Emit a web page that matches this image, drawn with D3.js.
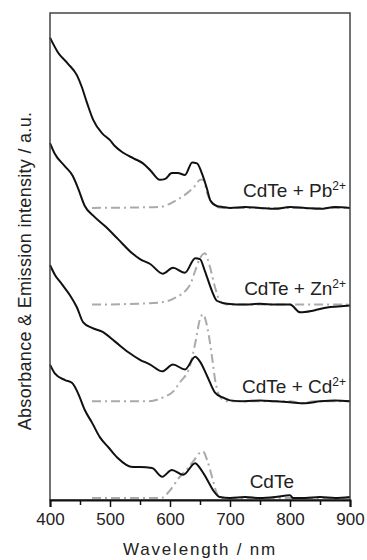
<!DOCTYPE html>
<html>
<head>
<meta charset="utf-8">
<script src="https://cdn.jsdelivr.net/npm/d3@7"></script>
<style>
body { margin: 0; background: #fff; }
text { font-family: "Liberation Sans", Arial, sans-serif; fill: #222; }
</style>
</head>
<body>
<div id="chart"></div>
<script>
// spectra: [wavelength nm, intensity a.u.]
var pbAbsorbance = [[400,1.76],[413,1.61],[430,1.49],[445,1.37],[453,1.25],[462,1.08],[472,0.91],[487,0.77],[500,0.70],[508,0.64],[522,0.57],[540,0.51],[555,0.46],[567,0.39],[583,0.29],[592,0.30],[603,0.36],[613,0.36],[625,0.34],[637,0.47],[645,0.46],[653,0.36],[662,0.19],[667,0.08],[678,0.02],[688,0.01],[700,0],[725,0.01],[750,0],[775,-0.01],[800,0.01],[825,0],[850,-0.01],[875,0.01],[900,0]];
var znAbsorbance = [[400,1.67],[408,1.56],[425,1.43],[438,1.33],[447,1.20],[458,1.02],[472,0.92],[492,0.81],[513,0.68],[537,0.53],[550,0.47],[567,0.42],[588,0.32],[605,0.38],[625,0.33],[642,0.48],[650,0.47],[658,0.35],[670,0.14],[678,0.04],[695,0.01],[725,0],[750,0.01],[775,0],[800,0],[817,-0.08],[840,-0.06],[862,-0.03],[880,-0.02],[900,-0.01]];
var cdAbsorbance = [[400,1.41],[408,1.31],[420,1.21],[433,1.10],[445,0.97],[455,0.82],[470,0.76],[487,0.72],[508,0.62],[530,0.51],[550,0.43],[567,0.38],[587,0.31],[605,0.38],[625,0.33],[642,0.46],[650,0.41],[662,0.26],[675,0.09],[688,0.04],[700,0.01],[725,0],[750,0.01],[775,0],[800,-0.01],[825,-0.02],[850,0],[875,0.01],[900,0]];
var cdteAbsorbance = [[400,1.38],[408,1.29],[425,1.22],[437,1.19],[447,1.08],[458,0.91],[470,0.78],[483,0.63],[498,0.52],[512,0.42],[538,0.32],[550,0.32],[570,0.31],[587,0.22],[603,0.29],[622,0.24],[642,0.36],[650,0.31],[662,0.19],[672,0.08],[683,0.01],[700,0],[725,0.01],[750,0],[775,0.01],[800,0.03],[805,0],[825,0],[850,0.01],[875,0],[900,0.01]];

var pbEmission = [[470,0],[550,0.005],[583,0.01],[605,0.06],[628,0.15],[642,0.23],[650,0.29],[656,0.29],[662,0.15],[670,0.06],[678,0.01],[690,0],[900,0]];
var znEmission = [[470,0],[550,0.01],[580,0.02],[605,0.06],[633,0.20],[642,0.35],[650,0.48],[658,0.53],[667,0.38],[675,0.18],[683,0.04],[695,0],[900,0]];
var cdEmission = [[470,0],[562,0],[588,0.04],[605,0.10],[617,0.20],[633,0.36],[642,0.60],[650,0.85],[655,0.90],[663,0.74],[670,0.46],[675,0.23],[683,0.05],[695,0],[800,0],[820,-0.02],[840,0],[900,0]];
var cdteEmission = [[470,0],[585,0],[600,0.08],[615,0.21],[630,0.31],[640,0.39],[650,0.47],[655,0.48],[662,0.39],[670,0.22],[678,0.05],[685,0],[900,0]];

var sampleLabels = ["CdTe + Pb", "CdTe + Zn", "CdTe + Cd", "CdTe"];
var labelIons = ["2+", "2+", "2+", ""];
var offsets = [3, 2, 1, 0];
var absorbanceSets = [pbAbsorbance, znAbsorbance, cdAbsorbance, cdteAbsorbance];
var emissionSets = [pbEmission, znEmission, cdEmission, cdteEmission];
var majorTicks = [400, 500, 600, 700, 800, 900];
var minorTicks = [450, 550, 650, 750, 850];

var svgWidth = 367;
var svgHeight = 560;
var margin = { top: 13, right: 17, bottom: 60, left: 50 };
var width = svgWidth - margin.left - margin.right;
var height = svgHeight - margin.top - margin.bottom;

var svg = d3.select("#chart")
    .append("svg")
    .attr("width", svgWidth)
    .attr("height", svgHeight);

var chartGroup = svg.append("g")
    .attr("transform", `translate(${margin.left}, ${margin.top})`);

var xScale = d3.scaleLinear()
    .domain([400, 900])
    .range([0, width]);

var yScale = d3.scaleLinear()
    .domain([-0.02, 5.015])
    .range([height, 0]);

// stacked spectra, each one shifted up by its offset
function lineFor(offset) {
    return d3.line()
        .x(d => xScale(d[0]))
        .y(d => yScale(d[1] + offset))
        .curve(d3.curveMonotoneX);
}

// emission first (dash-dot grey), absorbance over it
emissionSets.forEach(function(set, i) {
    chartGroup.append("path")
        .datum(set)
        .attr("fill", "none")
        .attr("stroke", "#aaaaaa")
        .attr("stroke-width", 2)
        .attr("stroke-dasharray", "9,4,2,4")
        .attr("d", lineFor(offsets[i]));
});

absorbanceSets.forEach(function(set, i) {
    chartGroup.append("path")
        .datum(set)
        .attr("fill", "none")
        .attr("stroke", "#111")
        .attr("stroke-width", 2)
        .attr("stroke-linejoin", "round")
        .attr("d", lineFor(offsets[i]));
});

// sample labels
var labelY = [197, 295, 393, 488];
sampleLabels.forEach(function(name, i) {
    var label = svg.append("text")
        .attr("x", i === 3 ? 294 : 346)
        .attr("y", labelY[i])
        .attr("text-anchor", "end")
        .attr("font-size", "19px")
        .text(name);
    if (labelIons[i]) {
        label.append("tspan")
            .attr("dy", -7)
            .attr("font-size", "12px")
            .text(labelIons[i]);
    }
});

// frame
chartGroup.append("rect")
    .attr("x", 0)
    .attr("y", 0)
    .attr("width", width)
    .attr("height", height)
    .attr("fill", "none")
    .attr("stroke", "#444")
    .attr("stroke-width", 1.5);

// bottom axis with major and minor ticks
var bottomAxis = d3.axisBottom(xScale)
    .tickValues(majorTicks)
    .tickSize(7)
    .tickPadding(6);

var xAxis = chartGroup.append("g")
    .attr("transform", `translate(0, ${height})`)
    .call(bottomAxis);

xAxis.select(".domain")
    .attr("stroke", "#111")
    .attr("stroke-width", 2);
xAxis.selectAll(".tick line")
    .attr("stroke", "#111")
    .attr("stroke-width", 1.5);
xAxis.selectAll(".tick text")
    .attr("font-size", "17px")
    .attr("fill", "#222")
    .attr("font-family", "Liberation Sans, Arial, sans-serif");

var minorAxis = d3.axisBottom(xScale)
    .tickValues(minorTicks)
    .tickSize(5)
    .tickFormat("");

var xMinor = chartGroup.append("g")
    .attr("transform", `translate(0, ${height})`)
    .call(minorAxis);
xMinor.select(".domain").remove();
xMinor.selectAll(".tick line")
    .attr("stroke", "#111")
    .attr("stroke-width", 1.5);

// axis titles
svg.append("text")
    .attr("x", margin.left + width / 2)
    .attr("y", 555)
    .attr("text-anchor", "middle")
    .attr("font-size", "17px")
    .attr("letter-spacing", "1.8px")
    .text("Wavelength / nm");

svg.append("text")
    .attr("transform", "translate(31, 271) rotate(-90)")
    .attr("text-anchor", "middle")
    .attr("font-size", "18px")
    .attr("letter-spacing", "0.3px")
    .text("Absorbance & Emission intensity / a.u.");
</script>
</body>
</html>
